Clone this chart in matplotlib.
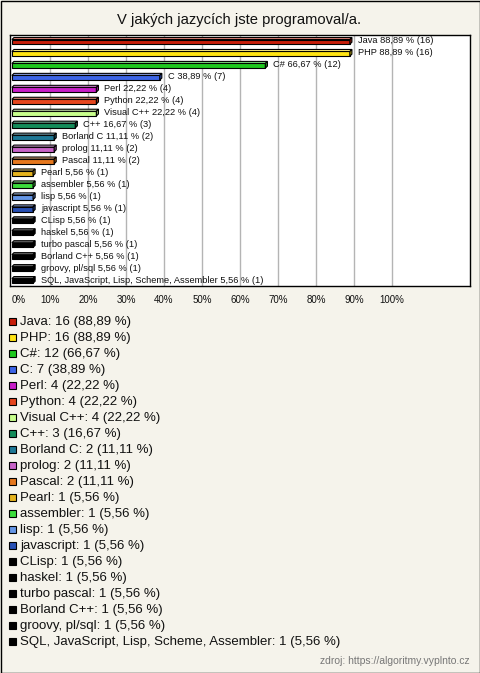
"""
Horizontal 3D-style bar chart of programming language survey answers
"""

import matplotlib  # nopep8
matplotlib.use('Agg')  # nopep8
import matplotlib.pyplot as plt
from matplotlib.patches import Polygon, Rectangle
from matplotlib.colors import to_rgb

plt.rcParams['font.family'] = ['Liberation Sans', 'DejaVu Sans']

title = 'V jakých jazycích jste programoval/a.'
source = 'zdroj: https://algoritmy.vyplnto.cz'

languages = ['Java', 'PHP', 'C#', 'C', 'Perl', 'Python', 'Visual C++', 'C++',
             'Borland C', 'prolog', 'Pascal', 'Pearl', 'assembler', 'lisp',
             'javascript', 'CLisp', 'haskel', 'turbo pascal', 'Borland C++',
             'groovy, pl/sql', 'SQL, JavaScript, Lisp, Scheme, Assembler']
counts = [16, 16, 12, 7, 4, 4, 4, 3, 2, 2, 2, 1, 1, 1, 1, 1, 1, 1, 1, 1, 1]
percents = [88.89, 88.89, 66.67, 38.89, 22.22, 22.22, 22.22, 16.67, 11.11,
            11.11, 11.11, 5.56, 5.56, 5.56, 5.56, 5.56, 5.56, 5.56, 5.56,
            5.56, 5.56]
colors = ['#c81e0a', '#ffe414', '#1ec81e', '#3c64e6', '#c81ec8', '#e6461e',
          '#c8ff8c', '#148c5a', '#1e7896', '#c864c8', '#e6781e', '#e6b41e',
          '#3cdc3c', '#6496e6', '#2850b4', '#000000', '#000000', '#000000',
          '#000000', '#000000', '#000000']
xticks = [0, 10, 20, 30, 40, 50, 60, 70, 80, 90, 100]

W, H = 480, 673
bg = '#f5f3eb'


def fmt(v):
    return f'{v:.2f}'.replace('.', ',')


def shade(c, f):
    r, g, b = to_rgb(c)
    if f > 0:
        return (r + (1 - r) * f, g + (1 - g) * f, b + (1 - b) * f)
    return (r * (1 + f), g * (1 + f), b * (1 + f))


fig = plt.figure(figsize=(W / 100, H / 100), dpi=100, facecolor=bg)
ax = fig.add_axes([10 / W, 1 - 286 / H, 460 / W, 251 / H])
ax.set_facecolor('white')

n = len(languages)
ax.set_xlim(-0.5, 120.5)
ax.set_ylim(n - 0.5, -0.5)

top, bot = -0.12, 0.27
dx, dy = 0.55, 0.17
for i, (v, c) in enumerate(zip(percents, colors)):
    ax.barh(i + (top + bot) / 2, v, height=bot - top, left=0, color=c,
            edgecolor='black', linewidth=0.8, zorder=3)
    ax.add_patch(Polygon([(0, i + top), (v, i + top), (v + dx, i + top - dy),
                          (dx, i + top - dy)], closed=True,
                         facecolor=shade(c, 0.45), edgecolor='black',
                         linewidth=0.8, zorder=3))
    ax.add_patch(Polygon([(v, i + top), (v + dx, i + top - dy),
                          (v + dx, i + bot - dy), (v, i + bot)], closed=True,
                         facecolor=shade(c, -0.3), edgecolor='black',
                         linewidth=0.8, zorder=3))
    ax.text(v + 2.1, i, f'{languages[i]} {fmt(v)} % ({counts[i]})',
            fontsize=6.7, va='center', ha='left', color='#111111', zorder=4)

for t in xticks[1:]:
    ax.axvline(t, color='#b4b4b4', linewidth=1, zorder=1)

ax.set_xticks(xticks)
ax.set_xticklabels([f'{t}%' for t in xticks], fontsize=7, color='#111111')
ax.xaxis.get_ticklabels()[0].set_horizontalalignment('left')
ax.tick_params(axis='x', length=0, pad=6.5)
ax.set_yticks([])
for s in ax.spines.values():
    s.set_linewidth(1)
    s.set_color('black')

fig.text(239 / W, 1 - 20 / H, title, fontsize=10.6, ha='center', va='center',
         color='#111111')

# legend drawn row by row
for i, name in enumerate(languages):
    yc = 321.5 + 16 * i
    fig.add_artist(Rectangle((9 / W, 1 - (yc + 3.5) / H), 7 / W, 7 / H,
                             transform=fig.transFigure, facecolor=colors[i],
                             edgecolor='black', linewidth=0.8))
    fig.text(20 / W, 1 - (yc + 0.5) / H,
             f'{name}: {counts[i]} ({fmt(percents[i])} %)',
             fontsize=9.5, ha='left', va='center', color='#111111')

fig.text(470 / W, 1 - 661 / H, source, fontsize=7.5, ha='right', va='center',
         color='#777777')

fig.add_artist(Rectangle((0.5 / W, 0.5 / H), (W - 1) / W, (H - 1) / H,
                         transform=fig.transFigure, facecolor='none',
                         edgecolor='black', linewidth=1))

plt.savefig('out.png', dpi=100, facecolor=bg)
